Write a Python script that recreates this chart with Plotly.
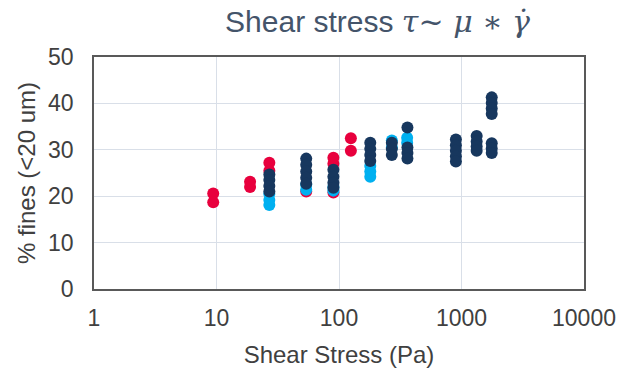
import plotly.graph_objects as go

# Data
red_x = [9.4, 9.4, 18.8, 18.8, 27, 27, 54, 90, 90, 90, 125, 125]
red_y = [20.6, 18.7, 23.1, 22.0, 27.2, 25.5, 21.0, 28.3, 27.0, 20.8, 32.5, 29.8]

blue_x = [27, 27, 27, 54, 54, 90, 90, 180, 180, 180, 270, 270, 360, 360]
blue_y = [19.2, 18.1, 20.5, 21.4, 22.5, 21.2, 22.0, 25.3, 24.2, 26.5, 32.0, 30.5, 32.6, 31.5]

navy_x = [27, 27, 27, 27,
          54, 54, 54, 54, 54,
          90, 90, 90, 90,
          180, 180, 180, 180,
          270, 270, 270,
          362, 362, 362, 362,
          900, 900, 900, 900, 900,
          1330, 1330, 1330, 1330,
          1765, 1765, 1765, 1765, 1765, 1765, 1765]
navy_y = [24.7, 23.5, 22.2, 21.0,
          28.1, 26.8, 25.3, 24.0, 22.7,
          25.7, 24.2, 22.9, 21.8,
          31.5, 30.2, 28.9, 27.6,
          31.5, 30.2, 28.9,
          34.8, 30.5, 29.3, 28.1,
          32.2, 31.0, 29.8, 28.6, 27.5,
          33.0, 31.8, 30.7, 29.8,
          41.3, 40.1, 38.9, 37.7, 31.4, 30.3, 29.3]

x_ticks = [1, 10, 100, 1000, 10000]
y_ticks = [0, 10, 20, 30, 40, 50]

fig = go.Figure()
for xs, ys, col, name in [(red_x, red_y, "#E8003D", "Series 1"),
                          (blue_x, blue_y, "#00B0F0", "Series 2"),
                          (navy_x, navy_y, "#17375E", "Series 3")]:
    fig.add_trace(go.Scatter(x=xs, y=ys, mode="markers", name=name,
                             marker=dict(color=col, size=12, line=dict(width=0))))

serif = "font-family:'DejaVu Serif'"
title = ("Shear stress <span style=\"%s\"><i>τ</i>~ <i>μ</i> ∗ <i>γ̇</i></span>" % serif)

fig.update_layout(
    width=620, height=370,
    margin=dict(l=94, r=36, t=57, b=81, autoexpand=False),
    paper_bgcolor="white", plot_bgcolor="white",
    showlegend=False,
    title=dict(text=title, x=0.609, xanchor="center", y=0.942, yanchor="middle",
               font=dict(family="Liberation Sans", size=30, color="#44546A")),
    font=dict(family="Liberation Sans", color="#404040"),
)
fig.update_xaxes(type="log", range=[0, 4], tickvals=x_ticks,
                 ticktext=[str(v) for v in x_ticks],
                 tickfont=dict(size=23, color="#404040"),
                 showgrid=True, gridcolor="#D9DFE8", gridwidth=1,
                 showline=True, linecolor="#595959", linewidth=1.5, mirror=True,
                 zeroline=False, ticks="", ticklabelstandoff=8, automargin=False,
                 title=dict(text="Shear Stress (Pa)", font=dict(size=24, color="#404040"),
                            standoff=16))
fig.update_yaxes(range=[0, 50], tickvals=y_ticks,
                 tickfont=dict(size=23, color="#404040"),
                 showgrid=True, gridcolor="#D9DFE8", gridwidth=1,
                 showline=True, linecolor="#595959", linewidth=1.5, mirror=True,
                 zeroline=False, ticks="", ticklabelstandoff=14, automargin=False,
                 title=dict(text="% fines (&lt;20 um)", font=dict(size=24, color="#404040"),
                            standoff=6))

fig.write_html("out.html",
               config={"displayModeBar": False},
               post_script="document.body.style.margin='0';document.body.style.overflow='hidden';")
